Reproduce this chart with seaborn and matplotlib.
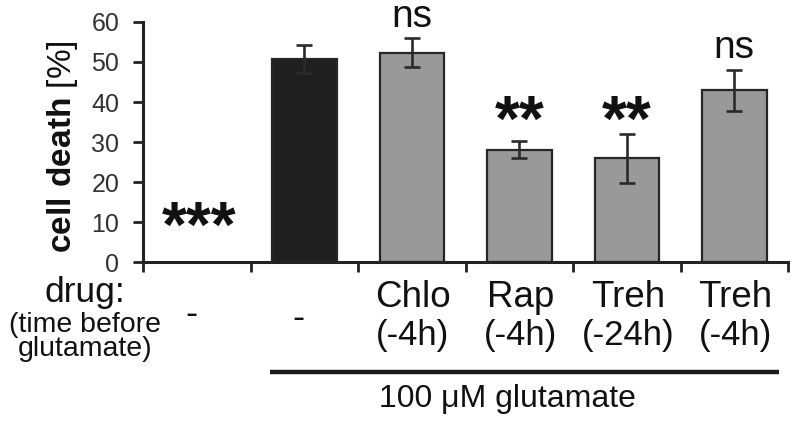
import matplotlib
matplotlib.use("Agg")
import matplotlib.pyplot as plt
import matplotlib.transforms as mtransforms
from matplotlib.lines import Line2D
import seaborn as sns
import pandas as pd

# ---- data ----
conditions = ["no glutamate", "glutamate", "Chlo -4h", "Rap -4h", "Treh -24h", "Treh -4h"]
cell_death = [0.0, 50.7, 52.3, 28.1, 25.9, 42.9]
cell_death_err = [0.0, 3.5, 3.6, 2.1, 6.1, 5.1]
significance = ["***", "", "ns", "**", "**", "ns"]
drug_names = ["-", "-", "Chlo", "Rap", "Treh", "Treh"]
drug_times = ["", "", "(-4h)", "(-4h)", "(-24h)", "(-4h)"]
y_ticks = [0, 10, 20, 30, 40, 50, 60]

bar_colors = ["#ffffff", "#1f1f1f", "#999999", "#999999", "#999999", "#999999"]

sns.set_style("ticks")
plt.rcParams["font.family"] = ["Liberation Sans", "DejaVu Sans"]
plt.rcParams["mathtext.fontset"] = "custom"
plt.rcParams["mathtext.rm"] = "Liberation Sans"
plt.rcParams["mathtext.bf"] = "Liberation Sans:bold"

W, H = 800, 429
fig = plt.figure(figsize=(W / 100, H / 100), dpi=100)
ax = fig.add_axes([143 / W, 1 - 262 / H, (788 - 143) / W, (262 - 22) / H])

df = pd.DataFrame({"condition": conditions, "death": cell_death})
sns.barplot(data=df, x="condition", y="death", hue="condition",
            palette=dict(zip(conditions, bar_colors)), legend=False,
            width=0.6, edgecolor="#262626", linewidth=1.6,
            errorbar=None, ax=ax)
# invisible bar for the zero-value condition
ax.patches[0].set_edgecolor("none")
ax.patches[0].set_facecolor("none")

xs = list(range(len(conditions)))
ax.errorbar(xs[1:], cell_death[1:], yerr=cell_death_err[1:], fmt="none",
            ecolor="#2a2a2a", elinewidth=1.9, capsize=5.5, capthick=1.9, zorder=5)

ax.set_xlim(-0.5, len(conditions) - 0.5)
ax.set_ylim(0, 60)
ax.set_yticks(y_ticks)
ax.set_xticks([i - 0.5 for i in range(len(conditions) + 1)])
ax.set_xticklabels([])
ax.set_xlabel("")
ax.set_ylabel("")
ax.tick_params(axis="y", direction="out", length=7, width=2, labelsize=18,
               pad=10, colors="#222222", labelcolor="#333333")
ax.tick_params(axis="x", direction="out", length=7, width=2, colors="#222222")
sns.despine(ax=ax)
for s in ["left", "bottom"]:
    ax.spines[s].set_linewidth(2.2)
    ax.spines[s].set_color("#222222")

# significance marks
for i, (lab, v, e) in enumerate(zip(significance, cell_death, cell_death_err)):
    if not lab:
        continue
    if lab == "ns":
        ax.text(i, v + e + 2.9, lab, ha="center", va="baseline", fontsize=28,
                color="#111111", clip_on=False)
    elif lab == "**":
        ax.text(i, 30.3, lab, ha="center", va="baseline", fontsize=46,
                fontweight="bold", color="#111111", clip_on=False)
    else:
        ax.text(i + 0.02, 3.8, lab, ha="center", va="baseline", fontsize=46,
                fontweight="bold", color="#111111", clip_on=False)

# y label
fig.text(63 / W, 1 - 147 / H, r"$\mathbf{cell\ death}$ [%]", rotation=90,
         ha="center", va="center", fontsize=24, color="#111111")

# labels under the axis
trans = mtransforms.blended_transform_factory(ax.transData, fig.transFigure)
fig.text(85 / W, 1 - 302 / H, "drug:", ha="center", va="baseline", fontsize=25.5,
         color="#111111")
fig.text(85 / W, 1 - 337 / H, "(time before\nglutamate)", ha="center",
         va="center", fontsize=20.5, linespacing=0.95, color="#111111")

for i, (name, t) in enumerate(zip(drug_names, drug_times)):
    if name == "-":
        ax.text(i - 0.05, 1 - (315 + 3 * i) / H, name, transform=trans,
                ha="center", va="center", fontsize=26, color="#111111")
    else:
        ax.text(i + 0.01, 1 - 307 / H, name, transform=trans, ha="center",
                va="baseline", fontsize=26.5, color="#111111")
        ax.text(i + 0.01, 1 - 345 / H, t, transform=trans, ha="center",
                va="baseline", fontsize=25, color="#111111")

fig.add_artist(Line2D([0.68, 5.42], [1 - 372 / H, 1 - 372 / H], transform=trans,
                      color="#1a1a1a", linewidth=3.2, solid_capstyle="butt"))
fig.text(507 / W, 1 - 407 / H, "100 \u03bcM glutamate", ha="center", va="baseline",
         fontsize=23, color="#111111")

fig.savefig("out.png", dpi=100)
